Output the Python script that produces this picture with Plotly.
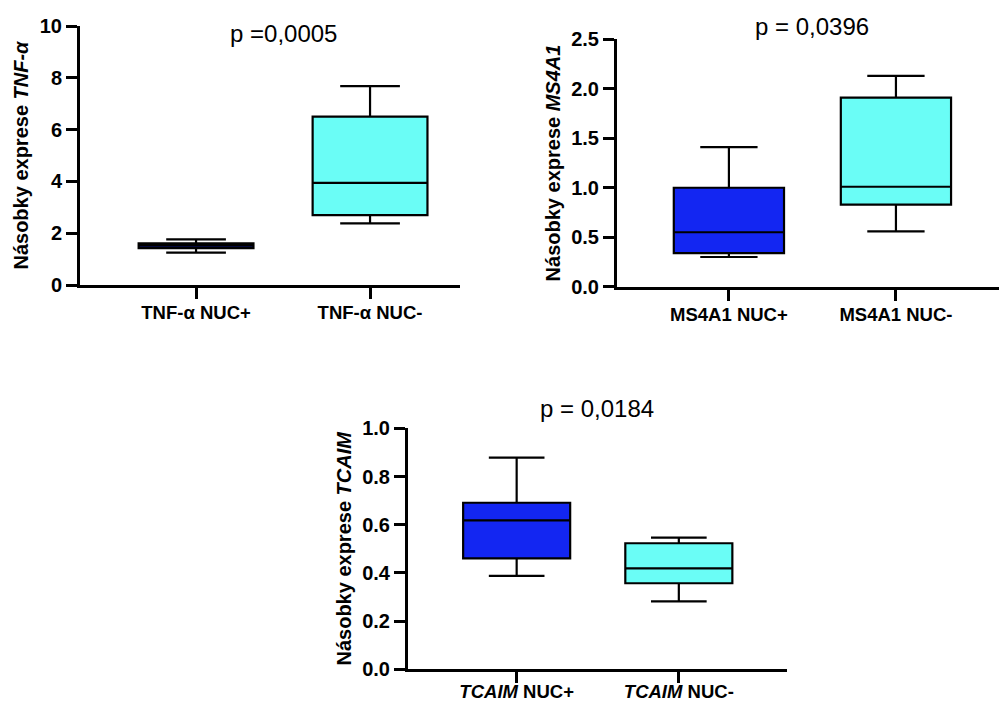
import plotly.graph_objects as go

W, H = 999, 702

# ---- data ----
tnf_cats = ["TNF-α NUC+", "TNF-α NUC-"]
tnf_min = [1.25, 2.38]
tnf_q1 = [1.42, 2.70]
tnf_med = [1.52, 3.94]
tnf_q3 = [1.61, 6.50]
tnf_max = [1.76, 7.68]

ms_cats = ["MS4A1 NUC+", "MS4A1 NUC-"]
ms_min = [0.30, 0.56]
ms_q1 = [0.34, 0.83]
ms_med = [0.55, 1.01]
ms_q3 = [1.00, 1.91]
ms_max = [1.41, 2.13]

tc_cats = ["<i>TCAIM</i> NUC+", "<i>TCAIM</i> NUC-"]
tc_min = [0.388, 0.282]
tc_q1 = [0.460, 0.357]
tc_med = [0.618, 0.419]
tc_q3 = [0.691, 0.523]
tc_max = [0.878, 0.546]

colors = ["#1326F2", "#6AFDF6"]
p_texts = ["p =0,0005", "p = 0,0396", "p = 0,0184"]
y_titles = ["Násobky exprese <i>TNF-α</i>", "Násobky exprese <i>MS4A1</i>",
            "Násobky exprese <i>TCAIM</i>"]

FONT = "Arial, 'Liberation Sans', Helvetica, sans-serif"

fig = go.Figure()

panels = [
    (tnf_cats, tnf_min, tnf_q1, tnf_med, tnf_q3, tnf_max, "x", "y"),
    (ms_cats, ms_min, ms_q1, ms_med, ms_q3, ms_max, "x2", "y2"),
    (tc_cats, tc_min, tc_q1, tc_med, tc_q3, tc_max, "x3", "y3"),
]
for cats, mn, q1, med, q3, mx, xa, ya in panels:
    for i, c in enumerate(cats):
        fig.add_trace(go.Box(
            x=[c], q1=[q1[i]], median=[med[i]], q3=[q3[i]],
            lowerfence=[mn[i]], upperfence=[mx[i]],
            fillcolor=colors[i], line=dict(color="black", width=2.2),
            whiskerwidth=0.52, width=0.66, xaxis=xa, yaxis=ya,
            showlegend=False, hoverinfo="skip",
        ))

def px_x(p):
    return p / W

def px_y(p):
    return 1 - p / H

axis_common = dict(showline=True, linecolor="black", linewidth=3,
                   ticks="outside", ticklen=11, tickwidth=3, tickcolor="black",
                   showgrid=False, zeroline=False, mirror=False, automargin=False)

xt_font = dict(family=FONT, size=18.5, color="black", weight="bold")
yt_font = dict(family=FONT, size=20, color="black", weight="bold")
title_font = dict(family=FONT, size=20, color="black", weight="bold")

fig.update_layout(
    width=W, height=H, margin=dict(l=0, r=0, t=0, b=0, autoexpand=False),
    paper_bgcolor="white", plot_bgcolor="white", showlegend=False,
    font=dict(family=FONT, color="black"),
    xaxis=dict(domain=[px_x(80), px_x(460)], anchor="y", range=[-0.667, 1.517],
               tickfont=xt_font, ticklabelstandoff=-2, **axis_common),
    yaxis=dict(domain=[px_y(285), px_y(26)], anchor="x", range=[0, 10], dtick=2,
               tickfont=yt_font, title=dict(text=y_titles[0], font=title_font, standoff=6),
               **axis_common),
    xaxis2=dict(domain=[px_x(617), 1.0], anchor="y2", range=[-0.67, 1.617],
                tickfont=xt_font, ticklabelstandoff=-2, **axis_common),
    yaxis2=dict(domain=[px_y(286.7), px_y(39.3)], anchor="x2", range=[0, 2.5], dtick=0.5,
                tickformat=".1f", tickfont=yt_font,
                title=dict(text=y_titles[1], font=title_font, standoff=6),
                **axis_common),
    xaxis3=dict(domain=[px_x(408), px_x(787)], anchor="y3", range=[-0.67, 1.667],
                tickfont=xt_font, ticklabelstandoff=-8, **axis_common),
    yaxis3=dict(domain=[px_y(669.3), px_y(428.3)], anchor="x3", range=[0, 1.0], dtick=0.2,
                tickformat=".1f", tickfont=yt_font,
                title=dict(text=y_titles[2], font=title_font, standoff=6),
                **axis_common),
)

p_pos = [(283, 34), (812, 27), (597, 408)]
for t, (x, y) in zip(p_texts, p_pos):
    fig.add_annotation(text=t, x=px_x(x), y=px_y(y), xref="paper", yref="paper",
                       showarrow=False, xanchor="center", yanchor="middle",
                       font=dict(family=FONT, size=24, color="black"))

fig.write_html("out.html")
